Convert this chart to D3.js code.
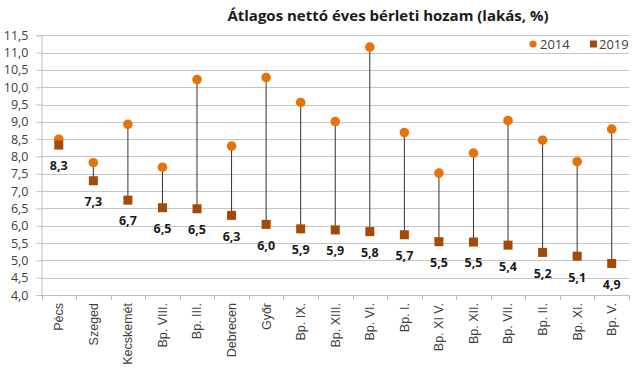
<!DOCTYPE html>
<html><head><meta charset="utf-8">
<script src="https://cdn.jsdelivr.net/npm/d3@7"></script>
<style>body{margin:0;background:#fff}svg{display:block}</style>
</head><body>
<script>
const categories = ["Pécs","Szeged","Kecskemét","Bp. VIII.","Bp. III.","Debrecen","Győr","Bp. IX.","Bp. XIII.","Bp. VI.","Bp. I.","Bp. XI V.","Bp. XII.","Bp. VII.","Bp. II.","Bp. XI.","Bp. V."];
const values2014 = [8.5,7.82,8.93,7.69,10.22,8.3,10.28,9.56,9.01,11.16,8.69,7.52,8.1,9.04,8.47,7.85,8.79];
const values2019 = [8.33,7.3,6.74,6.52,6.49,6.3,6.04,5.91,5.88,5.83,5.74,5.54,5.53,5.44,5.23,5.12,4.91];
const yTicks = [4.0,4.5,5.0,5.5,6.0,6.5,7.0,7.5,8.0,8.5,9.0,9.5,10.0,10.5,11.0,11.5];
const seriesNames = ["2014","2019"];
const title = "Átlagos nettó éves bérleti hozam (lakás, %)";

const W=640,H=373;
const m={left:41.5,right:11,top:35.3,bottom:78};
const svg=d3.select("body").append("svg").attr("width",W).attr("height",H)
  .style("font-family","'Open Sans', 'Liberation Sans', sans-serif");
const x=d3.scaleBand().domain(categories).range([m.left,W-m.right]);
const y=d3.scaleLinear().domain([4,11.5]).range([H-m.bottom,m.top]);
const fmt=v=>v.toFixed(1).replace(".",",");

// gridlines
svg.append("g").selectAll("line").data(yTicks).join("line")
  .attr("x1",m.left).attr("x2",W-m.right)
  .attr("y1",d=>Math.round(y(d))+0.5).attr("y2",d=>Math.round(y(d))+0.5)
  .attr("stroke","#c6c6c6").attr("stroke-width",1);

// y axis
const ya=svg.append("g").attr("transform",`translate(${m.left},0)`)
  .call(d3.axisLeft(y).tickValues(yTicks).tickSize(5).tickFormat(fmt));
ya.select(".domain").attr("stroke","#bfbfbf");
ya.selectAll(".tick line").attr("stroke","#bfbfbf");
ya.selectAll(".tick text").attr("fill","#404040").attr("x",-13)
  .attr("font-family","'Open Sans',sans-serif").style("font-size","12.5px");

// x axis
const xa=svg.append("g").attr("transform",`translate(0,${H-m.bottom})`)
  .call(d3.axisBottom(x).tickSize(0).tickFormat(d=>d));
xa.select(".domain").attr("stroke","#bfbfbf");
xa.selectAll(".tick text").attr("transform","rotate(-90)")
  .attr("text-anchor","end").attr("x",-8).attr("y",0).attr("dy","0.35em")
  .attr("font-size","12.5px").attr("fill","#404040");
// boundary ticks
const bounds=categories.map(c=>x(c)).concat([x(categories[categories.length-1])+x.bandwidth()]);
svg.append("g").selectAll("line").data(bounds).join("line")
  .attr("x1",d=>Math.round(d)+0.5).attr("x2",d=>Math.round(d)+0.5)
  .attr("y1",H-m.bottom).attr("y2",H-m.bottom+5).attr("stroke","#bfbfbf");

const cx=c=>x(c)+x.bandwidth()/2;
// connectors
svg.append("g").selectAll("line").data(categories).join("line")
  .attr("x1",c=>cx(c)).attr("x2",c=>cx(c))
  .attr("y1",(c,i)=>y(values2014[i])).attr("y2",(c,i)=>y(values2019[i]))
  .attr("stroke","#333").attr("stroke-width",1);
// 2014 circles
svg.append("g").selectAll("circle").data(categories).join("circle")
  .attr("cx",c=>cx(c)).attr("cy",(c,i)=>y(values2014[i])).attr("r",4.8)
  .attr("fill","#E8710A");
// 2019 squares
svg.append("g").selectAll("rect").data(categories).join("rect")
  .attr("x",c=>cx(c)-4.5).attr("y",(c,i)=>y(values2019[i])-4.5)
  .attr("width",9).attr("height",9).attr("fill","#A34A06");
// labels
svg.append("g").selectAll("text").data(categories).join("text")
  .attr("x",c=>cx(c)).attr("y",(c,i)=>y(values2019[i])+21)
  .attr("text-anchor","middle").attr("dy","0.35em")
  .attr("font-size","12.5px").attr("font-weight","bold").attr("fill","#1a1a1a")
  .text((c,i)=>fmt(values2019[i]));

// title
svg.append("text").attr("x",388).attr("y",21).attr("text-anchor","middle")
  .attr("font-size","15px").attr("font-weight","bold").attr("fill","#1a1a1a").text(title);

// legend
const lg=svg.append("g");
lg.append("circle").attr("cx",533).attr("cy",44).attr("r",3.6).attr("fill","#E8710A");
lg.append("text").attr("x",540).attr("y",44).attr("dy","0.35em").attr("font-size","13px").attr("fill","#404040").text(seriesNames[0]);
lg.append("rect").attr("x",590).attr("y",40.5).attr("width",7).attr("height",7).attr("fill","#A34A06");
lg.append("text").attr("x",599).attr("y",44).attr("dy","0.35em").attr("font-size","13px").attr("fill","#404040").text(seriesNames[1]);
</script>
</body></html>
